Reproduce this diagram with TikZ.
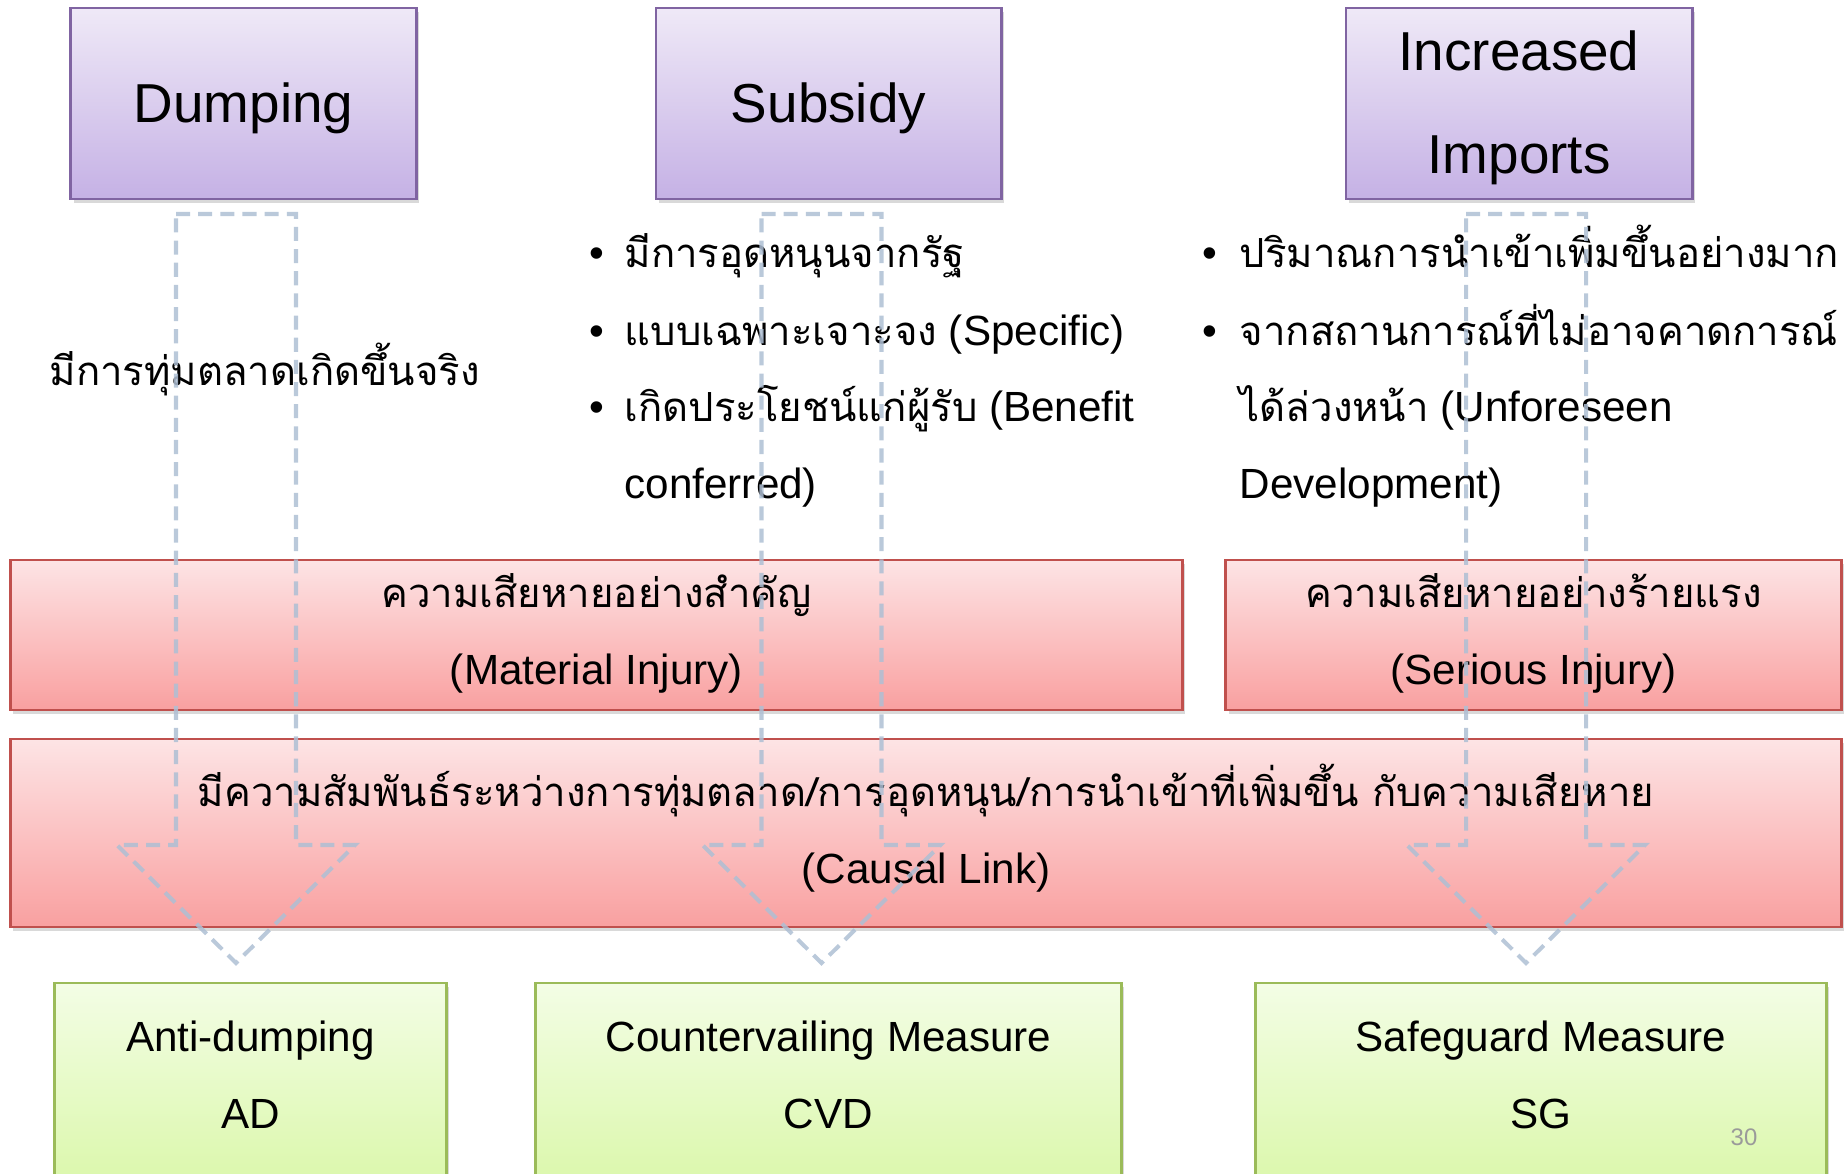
\documentclass[tikz,border=0pt]{standalone}
\usepackage{fontspec}
\setmainfont{Liberation Sans}
\newfontfamily\thaifont[Script=Thai, Scale=0.95]{Loma}
\usepackage{xcolor}
\usepackage{tikz}
\usetikzlibrary{shadows}

\definecolor{lilacTop}{HTML}{EFE9F7}
\definecolor{lilacBot}{HTML}{C5B1E5}
\definecolor{lilacLine}{HTML}{8064A2}
\definecolor{roseTop}{HTML}{FDE4E5}
\definecolor{roseBot}{HTML}{F9A0A0}
\definecolor{roseLine}{HTML}{C0504D}
\definecolor{limeTop}{HTML}{F3FDE5}
\definecolor{limeBot}{HTML}{D8F7A4}
\definecolor{limeLine}{HTML}{9BBB59}
\definecolor{flowBlue}{HTML}{AEBFD4}
\definecolor{pageGray}{HTML}{9A9A9A}

\begin{document}
\begin{tikzpicture}[x=0.01cm, y=-0.01cm, every node/.style={font=\fontsize{12}{14}\selectfont, inner sep=0pt},
		panel/.style={draw, line width=0.8pt, drop shadow={shadow xshift=0.8pt, shadow yshift=-1.2pt, opacity=0.3}},
		cause/.style={panel, draw=lilacLine, top color=lilacTop, bottom color=lilacBot},
		harm/.style={panel, draw=roseLine, top color=roseTop, bottom color=roseBot},
		remedy/.style={panel, draw=limeLine, top color=limeTop, bottom color=limeBot},
		titletext/.style={anchor=base, font=\fontsize{15.6}{18}\selectfont},
		midtext/.style={anchor=base},
		itemtext/.style={anchor=base west},
		flow/.style={draw=flowBlue, line width=1.15pt, dash pattern=on 4pt off 2.3pt, opacity=0.85}]
				
				\useasboundingbox (0,0) rectangle (1846,1173);
				\clip (0,0) rectangle (1846,1173);
				
				% Causes
				\node[cause, minimum width=3.45cm, minimum height=1.91cm] (dumping) at (243.5,103.5) {};
				\node[cause, minimum width=3.45cm, minimum height=1.91cm] (subsidy) at (828.5,103.5) {};
				\node[cause, minimum width=3.46cm, minimum height=1.91cm] (imports) at (1519,103.5) {};
				\node[titletext] (dumpingtxt) at (243.5,123) {Dumping};
				\node[titletext] (subsidytxt) at (828.5,123) {Subsidy};
				\node[titletext] (importstxt1) at (1519,71) {Increased};
				\node[titletext] (importstxt2) at (1519,173) {Imports};
				
				% Conditions
				\node[itemtext] (dumpcond) at (49,385) {\thaifont มีการทุ่มตลาดเกิดขึ้นจริง};
				
				\node[midtext] (subdot1) at (597,268) {\textbullet};
				\node[midtext] (subdot2) at (597,345) {\textbullet};
				\node[midtext] (subdot3) at (597,421) {\textbullet};
				\node[itemtext] (subcond1) at (624,268) {\thaifont มีการอุดหนุนจากรัฐ};
				\node[itemtext] (subcond2) at (624,345) {{\thaifont แบบเฉพาะเจาะจง} (Specific)};
				\node[itemtext] (subcond3) at (624,421) {{\thaifont เกิดประโยชน์แก่ผู้รับ} (Benefit};
				\node[itemtext] (subcond4) at (624,498) {conferred)};
				
				\node[midtext] (impdot1) at (1210,268) {\textbullet};
				\node[midtext] (impdot2) at (1210,345) {\textbullet};
				\node[itemtext] (impcond1) at (1239,268) {\thaifont ปริมาณการนำเข้าเพิ่มขึ้นอย่างมาก};
				\node[itemtext] (impcond2) at (1239,345) {\thaifont จากสถานการณ์ที่ไม่อาจคาดการณ์};
				\node[itemtext] (impcond3) at (1239,421) {{\thaifont ได้ล่วงหน้า} (Unforeseen};
				\node[itemtext] (impcond4) at (1239,498) {Development)};
				
				% Injury
				\node[harm, minimum width=11.71cm, minimum height=1.5cm] (material) at (596.5,635) {};
				\node[harm, minimum width=6.15cm, minimum height=1.5cm] (serious) at (1533.5,635) {};
				\node[midtext] (materialtxt1) at (596.5,607) {\thaifont ความเสียหายอย่างสำคัญ};
				\node[midtext] (materialtxt2) at (596.5,684) {(Material Injury)};
				\node[midtext] (serioustxt1) at (1533.5,607) {\thaifont ความเสียหายอย่างร้ายแรง};
				\node[midtext] (serioustxt2) at (1533.5,684) {(Serious Injury)};
				
				% Causal link
				\node[harm, minimum width=18.3cm, minimum height=1.88cm] (causal) at (926,833) {};
				\node[midtext] (causaltxt1) at (926,806) {\thaifont มีความสัมพันธ์ระหว่างการทุ่มตลาด/การอุดหนุน/การนำเข้าที่เพิ่มขึ้น กับความเสียหาย};
				\node[midtext] (causaltxt2) at (926,883) {(Causal Link)};
				
				% Measures
				\node[remedy, minimum width=3.91cm, minimum height=2.27cm] (ad) at (250.5,1096.5) {};
				\node[remedy, minimum width=5.85cm, minimum height=2.27cm] (cvd) at (828.5,1096.5) {};
				\node[remedy, minimum width=5.7cm, minimum height=2.27cm] (sg) at (1541,1096.5) {};
				\node[midtext] (adtxt1) at (250.5,1051) {Anti-dumping};
				\node[midtext] (adtxt2) at (250.5,1128) {AD};
				\node[midtext] (cvdtxt1) at (828.5,1051) {Countervailing Measure};
				\node[midtext] (cvdtxt2) at (828.5,1128) {CVD};
				\node[midtext] (sgtxt1) at (1541,1051) {Safeguard Measure};
				\node[midtext] (sgtxt2) at (1541,1128) {SG};
				
				% Hollow arrows
				\foreach \cx in {236, 821.5, 1526} {
					\draw[flow] (\cx-60,214) -- (\cx+60,214) -- (\cx+60,845) -- (\cx+119,845)
						-- (\cx,963) -- (\cx-119,845) -- (\cx-60,845) -- cycle;
				}
				
				% Page number
				\node[midtext, font=\fontsize{6.8}{8}\selectfont, text=pageGray] (pagenum) at (1744,1145) {30};
				
			\end{tikzpicture}
\end{document}
